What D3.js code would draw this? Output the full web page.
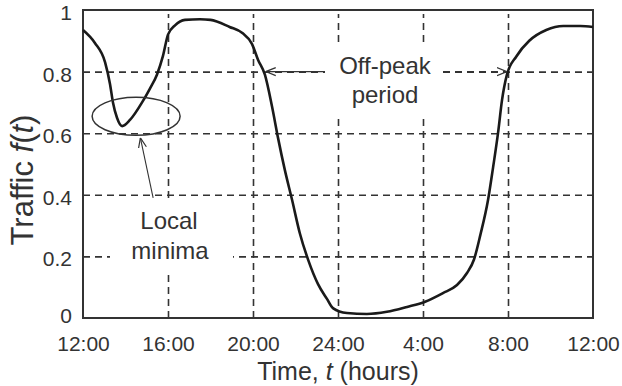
<!DOCTYPE html>
<html>
<head>
<meta charset="utf-8">
<script src="https://cdn.jsdelivr.net/npm/d3@7"></script>
<style>
  body { margin: 0; background: #fff; }
  svg text { font-family: "Liberation Sans", Arial, sans-serif; fill: #333; }
</style>
</head>
<body>
<svg id="chart" width="622" height="386"></svg>
<script>
// hours after 12:00 noon, and normalised traffic
const hours = [0, 0.56, 1.04, 1.27, 1.41, 1.6, 1.84, 2.21, 2.78, 3.15, 3.48, 3.76, 4.0, 4.33, 4.8, 5.5,
  6.0, 6.9, 7.5, 7.95, 8.24, 8.56, 8.9, 9.18, 9.5, 9.84, 10.2, 10.6, 11.06, 11.48, 11.76, 12.42,
  13.36, 14.3, 15.25, 16.1, 16.94, 17.6, 18.07, 18.4, 18.7, 19.06, 19.3, 19.53, 19.72, 19.95,
  20.4, 21.0, 21.8, 22.6, 23.4, 24];
const traffic = [0.935, 0.893, 0.83, 0.76, 0.70, 0.65, 0.623, 0.643, 0.70, 0.745, 0.79, 0.85, 0.92, 0.95, 0.968, 0.97,
  0.968, 0.945, 0.925, 0.89, 0.838, 0.79, 0.685, 0.584, 0.48, 0.383, 0.276, 0.188, 0.11, 0.062, 0.032, 0.016,
  0.013, 0.02, 0.036, 0.053, 0.081, 0.107, 0.146, 0.19, 0.27, 0.383, 0.49, 0.60, 0.708, 0.79,
  0.85, 0.90, 0.935, 0.948, 0.948, 0.945];
const xTicks = [0, 4, 8, 12, 16, 20, 24];
const xTickLabels = ["12:00", "16:00", "20:00", "24:00", "4:00", "8:00", "12:00"];
const yTicks = [0, 0.2, 0.4, 0.6, 0.8, 1];

const margin = {top: 10, right: 29, bottom: 68, left: 83};
const width = 622 - margin.left - margin.right;
const height = 386 - margin.top - margin.bottom;

const svg = d3.select("#chart");
const g = svg.append("g").attr("transform", "translate(" + margin.left + "," + margin.top + ")");

const x = d3.scaleLinear().domain([0, 24]).range([0, width]);
const y = d3.scaleLinear().domain([0, 1]).range([height, 0]);

// arrow marker
svg.append("defs").append("marker")
   .attr("id", "arr")
   .attr("viewBox", "0 0 10 10")
   .attr("refX", 10).attr("refY", 5)
   .attr("markerWidth", 10).attr("markerHeight", 10)
   .attr("markerUnits", "userSpaceOnUse")
   .attr("orient", "auto")
 .append("path")
   .attr("d", "M0,1 L10,5 L0,9")
   .attr("fill", "none").attr("stroke", "#333").attr("stroke-width", 1.2);

// dashed grid
const gridX = g.append("g")
   .attr("transform", "translate(0," + height + ")")
   .call(d3.axisBottom(x).tickValues(xTicks.slice(1, -1)).tickSize(-height + 4).tickFormat(""));
const gridY = g.append("g")
   .call(d3.axisLeft(y).tickValues(yTicks.slice(1, -1)).tickSize(-width).tickFormat(""));
[gridX, gridY].forEach(a => {
  a.select(".domain").remove();
  a.selectAll("line").attr("stroke", "#333").attr("stroke-width", 1.6).attr("stroke-dasharray", "7,5");
});

// white boxes behind the annotation texts break the grid
g.append("rect").attr("x", 110 - margin.left).attr("y", 203 - margin.top)
 .attr("width", 123).attr("height", 69).attr("fill", "#fff");
g.append("rect").attr("x", 325 - margin.left).attr("y", 45 - margin.top)
 .attr("width", 118).attr("height", 70).attr("fill", "#fff");

// tick labels
const xAxis = g.append("g")
   .attr("transform", "translate(0," + height + ")")
   .call(d3.axisBottom(x).tickValues(xTicks).tickSize(0).tickPadding(18)
          .tickFormat((d, i) => xTickLabels[i]));
const yAxis = g.append("g")
   .call(d3.axisLeft(y).tickValues(yTicks).tickSize(0).tickPadding(11).tickFormat(d => d3.format("")(d)));
[xAxis, yAxis].forEach(a => {
  a.select(".domain").remove();
  a.selectAll("text").style("font-size", "21px").attr("fill", "#333")
   .style("font-family", "'Liberation Sans', Arial, sans-serif");
});
yAxis.selectAll("text").attr("dy", d => d === 0 ? "0.2em" : "0.45em");

// frame
g.append("rect").attr("width", width).attr("height", height)
 .attr("fill", "none").attr("stroke", "#333").attr("stroke-width", 2);

// traffic curve
const line = d3.line()
   .x((d, i) => x(hours[i]))
   .y(d => y(d))
   .curve(d3.curveMonotoneX);
g.append("path").datum(traffic)
 .attr("d", line)
 .attr("fill", "none").attr("stroke", "#1a1a1a").attr("stroke-width", 2.6);

// local minima annotation
g.append("ellipse")
 .attr("cx", x(2.5)).attr("cy", y(0.655)).attr("rx", 44).attr("ry", 19)
 .attr("fill", "none").attr("stroke", "#333").attr("stroke-width", 1.5);
g.append("line")
 .attr("x1", x(3.3)).attr("y1", y(0.39)).attr("x2", x(2.7)).attr("y2", y(0.585))
 .attr("stroke", "#333").attr("stroke-width", 1.1).attr("marker-end", "url(#arr)");
g.append("text").attr("x", 169 - margin.left).attr("y", 229 - margin.top)
 .attr("text-anchor", "middle").style("font-size", "24px").text("Local");
g.append("text").attr("x", 170 - margin.left).attr("y", 259 - margin.top)
 .attr("text-anchor", "middle").style("font-size", "24px").text("minima");

// off-peak annotation
g.append("line")
 .attr("x1", 325 - margin.left).attr("y1", y(0.8)).attr("x2", x(8.6)).attr("y2", y(0.8))
 .attr("stroke", "#333").attr("stroke-width", 1.1).attr("marker-end", "url(#arr)");
g.append("line")
 .attr("x1", 443 - margin.left).attr("y1", y(0.8)).attr("x2", x(19.95)).attr("y2", y(0.8))
 .attr("stroke", "#333").attr("stroke-width", 1.3).attr("stroke-dasharray", "7,5")
 .attr("marker-end", "url(#arr)");
g.append("text").attr("x", 385 - margin.left).attr("y", 74 - margin.top)
 .attr("text-anchor", "middle").style("font-size", "24px").text("Off-peak");
g.append("text").attr("x", 385 - margin.left).attr("y", 103 - margin.top)
 .attr("text-anchor", "middle").style("font-size", "24px").text("period");

// axis titles
const xt = svg.append("text").attr("x", margin.left + width / 2).attr("y", 380)
 .attr("text-anchor", "middle").style("font-size", "25px");
xt.append("tspan").text("Time, ");
xt.append("tspan").style("font-style", "italic").text("t");
xt.append("tspan").text(" (hours)");

const yt = svg.append("text").attr("transform", "translate(33,180) rotate(-90)")
 .attr("text-anchor", "middle").style("font-size", "31px");
yt.append("tspan").text("Traffic ");
yt.append("tspan").style("font-style", "italic").text("f");
yt.append("tspan").text("(");
yt.append("tspan").style("font-style", "italic").text("t");
yt.append("tspan").text(")");
</script>
</body>
</html>
